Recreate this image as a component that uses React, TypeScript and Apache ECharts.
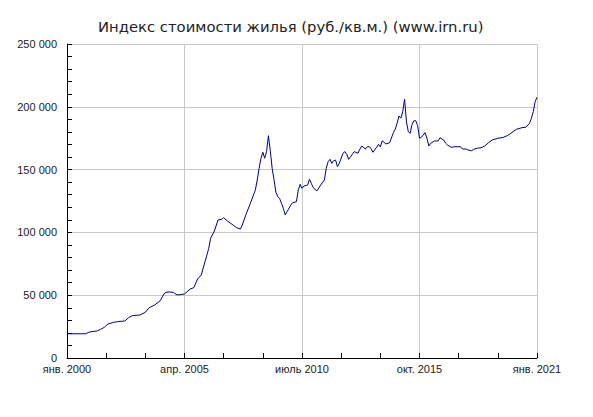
import React, { useEffect, useRef } from 'react';
import * as echarts from 'echarts';

const TITLE = 'Индекс стоимости жилья (руб./кв.м.) (www.irn.ru)';

// month names used in x labels
const monthNames = ['янв.', 'февр.', 'март', 'апр.', 'май', 'июнь', 'июль', 'авг.', 'сент.', 'окт.', 'нояб.', 'дек.'];

// months counted from Jan 2000
const months = [
    0, 10, 12, 16, 18, 20, 22, 25, 27, 31, 33, 35, 39, 42, 44, 47, 50, 52, 53, 55,
    57, 59, 61, 63, 66, 68, 70, 72, 74, 76, 77, 79, 81, 83, 84, 86, 89, 91, 93, 94,
    96, 99, 101, 102, 103, 104, 105, 106, 107, 108, 109, 110, 111, 112, 113, 114, 115, 116, 117, 118,
    120, 121, 123, 124, 125, 126, 127, 129, 130, 131, 132, 134, 136, 138, 139, 140, 141, 142, 143, 144,
    145, 146, 148, 149, 150, 151, 153, 154, 156, 157, 158, 160, 161, 162, 163, 164, 166, 167, 168, 169,
    171, 173, 175, 176, 177, 178, 179, 180, 181, 182, 183, 184, 185, 186, 187, 188, 189, 190, 192, 193,
    194, 195, 197, 199, 200, 202, 203, 204, 206, 208, 211, 212, 214, 215, 217, 218, 220, 222, 224, 226,
    228, 231, 234, 236, 238, 241, 244, 246, 248, 249, 250, 251, 252,
];

// руб./кв.м.
const values = [
    19300, 19300, 20700, 21500, 22800, 24400, 27100, 28400, 28900, 29500, 32100, 33700, 34200, 36400, 40000, 42200, 45600, 51000, 52300, 52600,
    52200, 50200, 50500, 51000, 54900, 56000, 62900, 66100, 76700, 87300, 95300, 101100, 109900, 110400, 111700, 109100, 105900, 103700, 102700, 105900,
    114400, 125800, 133800, 141700, 151000, 159000, 163800, 159000, 164300, 177000, 165000, 151000, 142000, 132000, 128500, 127000, 123200, 119200, 113900, 116500,
    121800, 123700, 124400, 133800, 138300, 135100, 136900, 137700, 142300, 139100, 135600, 133000, 137700, 141700, 151000, 156300, 158200, 155000, 157100, 157600,
    152300, 155000, 163000, 164300, 162200, 158200, 162200, 164300, 163000, 166200, 168800, 166400, 168200, 168200, 166900, 163800, 167800, 170100, 168000, 173000,
    170400, 171400, 179400, 182100, 186900, 192700, 191000, 196000, 206000, 188000, 180200, 178900, 186000, 188900, 188900, 185000, 175000, 175700, 179400, 174900,
    168800, 170900, 172800, 172800, 175400, 173500, 171000, 169600, 167800, 168200, 168200, 166400, 166400, 165600, 165000, 166200, 167000, 167400, 168800, 171400,
    173600, 174900, 175700, 177000, 178900, 182100, 183400, 183700, 186900, 190800, 196100, 204100, 207600,
];

const yTicks = { min: 0, max: 250000, step: 50000 };
const xTicks = { min: 0, max: 252, step: 63 };

const fmtThousands = (v: number) => String(v).replace(/\B(?=(\d{3})+(?!\d))/g, ' ');
const fmtMonth = (m: number) => `${monthNames[m % 12]} ${2000 + Math.floor(m / 12)}`;

export default function App() {
    const chartRef = useRef<HTMLDivElement>(null);

    useEffect(() => {
        if (!chartRef.current) return;
        const chart = echarts.init(chartRef.current, undefined, { renderer: 'svg' });

        const labelFont = { fontFamily: '"Liberation Sans", Arial, sans-serif', fontSize: 11, color: '#222' };

        const option: echarts.EChartsOption = {
            animation: false,
            backgroundColor: '#fff',
            title: {
                text: TITLE,
                left: 93,
                top: 14,
                textStyle: {
                    fontFamily: '"DejaVu Sans", Verdana, sans-serif',
                    fontSize: 14.8,
                    fontWeight: 'normal',
                    color: '#222',
                },
            },
            grid: { left: 67, right: 56, top: 44, bottom: 59 },
            xAxis: {
                type: 'value',
                min: xTicks.min,
                max: xTicks.max,
                interval: xTicks.step,
                axisLine: { lineStyle: { color: '#000', width: 1 } },
                axisTick: { inside: true, length: 5, lineStyle: { color: '#000' } },
                minorTick: { show: true, splitNumber: 3, length: 5, lineStyle: { color: '#000' } },
                splitLine: { show: true, lineStyle: { color: '#c8c8c8', width: 1 } },
                axisLabel: { ...labelFont, margin: 5, lineHeight: 11, formatter: (v: number) => fmtMonth(v) },
            },
            yAxis: {
                type: 'value',
                min: yTicks.min,
                max: yTicks.max,
                interval: yTicks.step,
                axisLine: { show: true, lineStyle: { color: '#000', width: 1 } },
                axisTick: { show: true, inside: true, length: 5, lineStyle: { color: '#000' } },
                minorTick: { show: true, splitNumber: 5, length: 5, lineStyle: { color: '#000' } },
                splitLine: { show: true, lineStyle: { color: '#c8c8c8', width: 1 } },
                axisLabel: { ...labelFont, margin: 10, lineHeight: 9, formatter: (v: number) => fmtThousands(v) },
            },
            series: [
                {
                    type: 'line',
                    data: months.map((m, i) => [m, values[i]]),
                    showSymbol: false,
                    lineStyle: { color: '#000080', width: 1 },
                },
            ],
        };

        chart.setOption(option);
        return () => chart.dispose();
    }, []);

    return <div ref={chartRef} style={{ position: 'fixed', left: 0, top: 0, width: 593, height: 417 }} />;
}
